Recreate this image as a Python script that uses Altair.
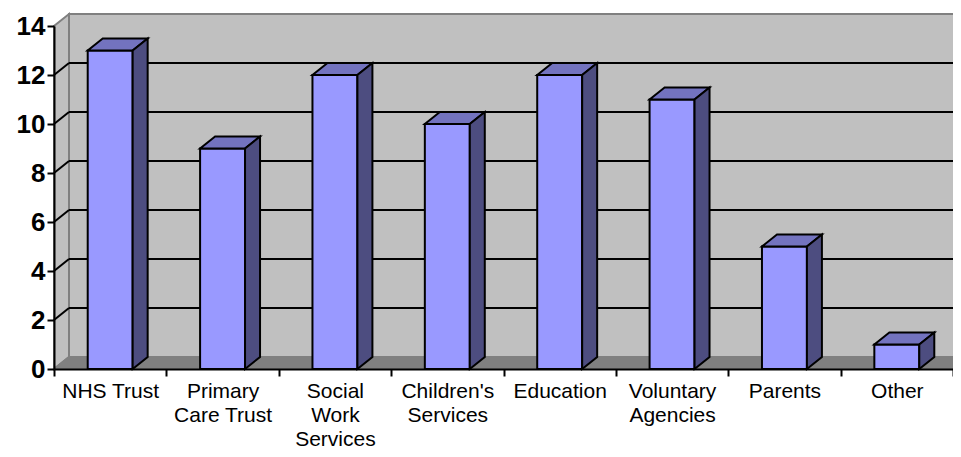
import json
import altair as alt
import pandas as pd

# ---- data ----
categories = ["NHS Trust", "Primary Care Trust", "Social Work Services",
              "Children's Services", "Education", "Voluntary Agencies",
              "Parents", "Other"]
values = [13, 9, 12, 10, 12, 11, 5, 1]
label_lines = [["NHS Trust"], ["Primary", "Care Trust"], ["Social", "Work", "Services"],
               ["Children's", "Services"], ["Education"], ["Voluntary", "Agencies"],
               ["Parents"], ["Other"]]
y_ticks = [0, 2, 4, 6, 8, 10, 12, 14]
grid_levels = [2, 4, 6, 8, 10, 12]

# ---- geometry / style ----
W, H = 899, 343
N = len(categories)
YMAX = 14
PX_X = W / N
PX_Y = H / YMAX
DX = 15 / PX_X      # 3D depth, horizontal (15 px)
DY = 12 / PX_Y      # 3D depth, vertical (12 px)
HW = 0.2            # half bar width (fraction of category)
FONT = "Liberation Sans"

xaxis = alt.Axis(
    values=[i / 2 for i in range(2 * N + 1)],
    labelExpr="datum.value % 1 === 0 ? '' : " + json.dumps(label_lines) + "[floor(datum.value)]",
    tickOpacity={"condition": {"test": "datum.value % 1 === 0", "value": 1}, "value": 0},
    labelOverlap=False, labelFlush=False, labelFont=FONT, labelFontSize=21,
    labelLineHeight=24, labelPadding=4, labelColor="black", labelBaseline="top",
    tickColor="black", tickSize=7, tickWidth=2, domainColor="black", domainWidth=2,
    grid=False, title=None, zindex=1,
)
yaxis = alt.Axis(
    values=y_ticks, labelFont=FONT, labelFontSize=26, labelFontWeight="bold",
    labelColor="black", labelPadding=2, tickColor="black", tickSize=7, tickWidth=2,
    domainColor="black", domainWidth=2, grid=False, title=None, zindex=1,
)
xscale = alt.Scale(domain=[0, N], nice=False, zero=False)
yscale = alt.Scale(domain=[0, YMAX], nice=False, zero=False)


def X(f):
    return alt.X(f, type="quantitative", scale=xscale, axis=xaxis)


def Y(f):
    return alt.Y(f, type="quantitative", scale=yscale, axis=yaxis)


# back wall
back_df = pd.DataFrame({"x": [DX], "x2": [N + DX], "y": [DY], "y2": [YMAX + DY]})
back = alt.Chart(back_df).mark_rect(fill="#C0C0C0", stroke="#808080", strokeWidth=2).encode(
    x=X("x"), x2=alt.X2("x2"), y=Y("y"), y2=alt.Y2("y2"))

# left wall
left_df = pd.DataFrame({"x": [0, DX], "ya": [0, DY], "yb": [YMAX, YMAX + DY]})
left = alt.Chart(left_df).mark_area(orient="vertical", fill="#C0C0C0", stroke="#808080",
                                    strokeWidth=2).encode(x=X("x"), y=Y("ya"), y2=alt.Y2("yb"))

# floor
floor_df = pd.DataFrame({"y": [0, DY], "xa": [0, DX], "xb": [N, N + DX]})
floor = alt.Chart(floor_df).mark_area(orient="horizontal", fill="#808080", stroke="#808080",
                                      strokeWidth=2).encode(y=Y("y"), x=X("xa"), x2=alt.X2("xb"))

# gridlines on back wall and left wall
bg_df = pd.DataFrame({"y": [g + DY for g in grid_levels], "xa": DX, "xb": N + DX})
back_grid = alt.Chart(bg_df).mark_rule(color="black", strokeWidth=2).encode(
    y=Y("y"), x=X("xa"), x2=alt.X2("xb"))
lg_df = pd.DataFrame({"xa": 0.0, "ya": grid_levels, "xb": DX, "yb": [g + DY for g in grid_levels]})
left_grid = alt.Chart(lg_df).mark_rule(color="black", strokeWidth=2).encode(
    x=X("xa"), y=Y("ya"), x2=alt.X2("xb"), y2=alt.Y2("yb"))

# bars
front_rows, top_rows, side_rows = [], [], []
for i, (c, v) in enumerate(zip(categories, values)):
    x0, x1 = i + 0.5 - HW, i + 0.5 + HW
    front_rows.append({"cat": c, "xa": x0, "xb": x1, "base": 0, "v": v})
    top_rows.append({"cat": c, "y": v, "xa": x0, "xb": x1})
    top_rows.append({"cat": c, "y": v + DY, "xa": x0 + DX, "xb": x1 + DX})
    side_rows.append({"cat": c, "x": x1, "ya": 0, "yb": v})
    side_rows.append({"cat": c, "x": x1 + DX, "ya": DY, "yb": v + DY})

front = alt.Chart(pd.DataFrame(front_rows)).mark_rect(
    fill="#9999FF", stroke="black", strokeWidth=2).encode(
    x=X("xa"), x2=alt.X2("xb"), y=Y("base"), y2=alt.Y2("v"))
top = alt.Chart(pd.DataFrame(top_rows)).mark_area(
    orient="horizontal", fill="#7373BF", stroke="black", strokeWidth=2).encode(
    y=Y("y"), x=X("xa"), x2=alt.X2("xb"), detail=alt.Detail("cat:N"))
side = alt.Chart(pd.DataFrame(side_rows)).mark_area(
    orient="vertical", fill="#4D4D80", stroke="black", strokeWidth=2).encode(
    x=X("x"), y=Y("ya"), y2=alt.Y2("yb"), detail=alt.Detail("cat:N"))

chart = alt.layer(back, left, floor, back_grid, left_grid, front, top, side).properties(
    width=W, height=H,
    padding={"left": 46, "top": 18, "right": 0, "bottom": 80},
    autosize=alt.AutoSizeParams(type="none"),
).configure_view(stroke=None)

chart.save("out.html", embed_options={"renderer": "svg", "actions": False})
